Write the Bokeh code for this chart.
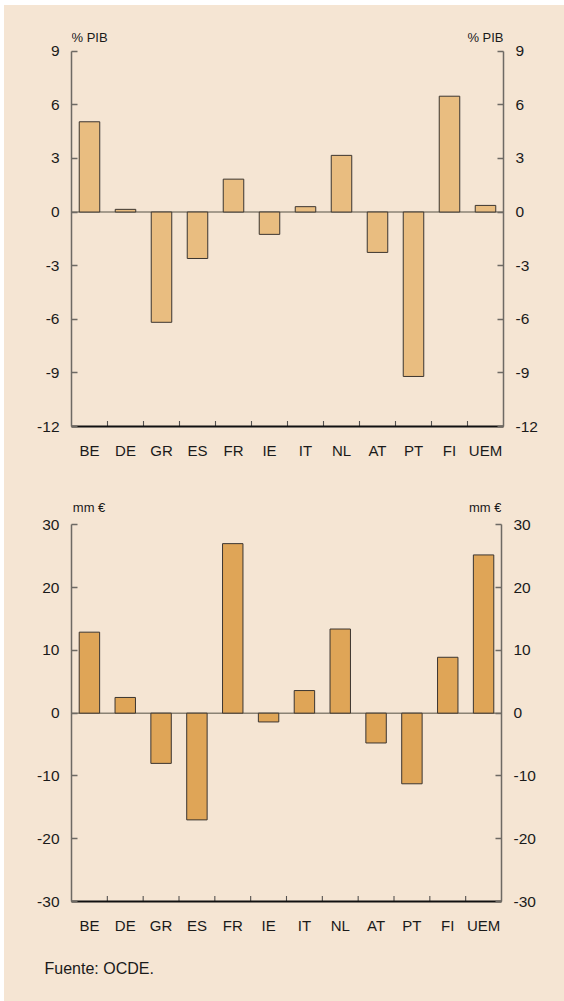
from bokeh.plotting import figure
from bokeh.layouts import column
from bokeh.models import Range1d, FixedTicker, Span, LinearAxis, Title
from bokeh.core.properties import value
from bokeh.embed import file_html
from bokeh.resources import INLINE
import numpy as np

categories = ["BE", "DE", "GR", "ES", "FR", "IE", "IT", "NL", "AT", "PT", "FI", "UEM"]
pct_pib = [5.05, 0.15, -6.17, -2.6, 1.84, -1.25, 0.3, 3.17, -2.26, -9.2, 6.48, 0.37]
mm_eur = [12.9, 2.5, -8.0, -17.0, 27.0, -1.4, 3.6, 13.4, -4.75, -11.25, 8.9, 25.2]
top_ticks = [-12, -9, -6, -3, 0, 3, 6, 9]
bot_ticks = [-30, -20, -10, 0, 10, 20, 30]
top_unit = "% PIB"
bot_unit = "mm €"
source_note = "Fuente: OCDE."

BG = "#F5E5D3"
FONT = "Liberation Sans"
TXT = "#1a1a1a"


def make_chart(values, ticks, unit, color, frame_w, frame_h, y_end,
               mb_left, mb_right, mb_top, mb_bottom, unit_dy, unit_dx_left, height):
    n = len(categories)
    xs = np.arange(n) + 0.5
    p = figure(frame_width=frame_w, frame_height=frame_h, width=560, height=height,
               x_range=Range1d(0, n), y_range=Range1d(ticks[0], y_end),
               output_backend="svg", toolbar_location=None,
               min_border_left=mb_left, min_border_right=mb_right,
               min_border_top=mb_top, min_border_bottom=mb_bottom,
               background_fill_color=BG, border_fill_color=BG,
               y_axis_location=None, x_axis_location=None)
    p.outline_line_color = None
    p.grid.visible = False

    p.add_layout(Span(location=0, dimension="width", line_color="#8a8274", line_width=1.5,
                      level="underlay"))

    p.vbar(x=xs, top=values, bottom=0, width=0.57, fill_color=color,
           line_color="#3b3530", line_width=1)

    # boundary tick marks between categories (centred on the x axis, lower half clipped)
    bounds_x = np.arange(1, n)
    p.rect(x=bounds_x, y=ticks[0], width=1.1, height=11, width_units="screen",
           height_units="screen", fill_color="#555250", line_color=None)

    xax = LinearAxis(ticker=FixedTicker(ticks=list(xs)))
    xax.major_label_overrides = {float(x): c for x, c in zip(xs, categories)}
    xax.major_tick_line_color = None
    xax.minor_tick_line_color = None
    xax.axis_line_color = "#111111"
    xax.axis_line_width = 2
    xax.major_label_text_font = FONT
    xax.major_label_text_font_size = "15px"
    xax.major_label_text_color = TXT
    xax.major_label_standoff = 9
    p.add_layout(xax, "below")

    for side in ("left", "right"):
        ax = LinearAxis(ticker=FixedTicker(ticks=ticks), bounds=(ticks[0], ticks[-1]))
        ax.major_label_overrides = {t: str(t) for t in ticks}
        ax.major_tick_in = 6
        ax.major_tick_out = 0
        ax.minor_tick_line_color = None
        ax.axis_line_color = "#6e6a64"
        ax.axis_line_width = 1.5
        ax.major_tick_line_color = "#6e6a64"
        ax.major_tick_line_width = 1.5
        ax.major_label_text_font = FONT
        ax.major_label_text_font_size = "15.5px"
        ax.major_label_text_color = TXT
        ax.major_label_standoff = 12
        p.add_layout(ax, side)

    p.text(x=[0], y=[ticks[-1]], text=[unit], text_align="left", text_baseline="middle",
           x_offset=unit_dx_left, y_offset=unit_dy, text_font=value(FONT), text_font_size="13px",
           text_color=TXT)
    p.text(x=[n], y=[ticks[-1]], text=[unit], text_align="right", text_baseline="middle",
           x_offset=0, y_offset=unit_dy, text_font=value(FONT), text_font_size="13px",
           text_color=TXT)
    return p


# top chart: frame from y=28 to 426.4 (page), 9 at 50.7
top_px_per_unit = 375.7 / 21
top_end = 9 + (50.7 - 28) / top_px_per_unit
p1 = make_chart(pct_pib, top_ticks, top_unit, "#E9BD80", 432, 398, top_end,
                65, 63, 23, 59, -13.4, 0, 480)

bot_px_per_unit = 376.7 / 60
bot_end = 30 + (524.3 - 498) / bot_px_per_unit
p2 = make_chart(mm_eur, bot_ticks, bot_unit, "#DFA557", 430, 403, bot_end,
                67, 63, 13, 100, -17.3, 1.3, 516)
note = Title(text=source_note, align="left", offset=-27, text_font=FONT,
             text_font_size="16px", text_font_style="normal", text_color=TXT, standoff=42)
p2.add_layout(note, "below")

layout = column(p1, p2, spacing=0, margin=(5, 0, 0, 4), styles={"background-color": BG})
open("out.html", "w").write(file_html(layout, INLINE))
